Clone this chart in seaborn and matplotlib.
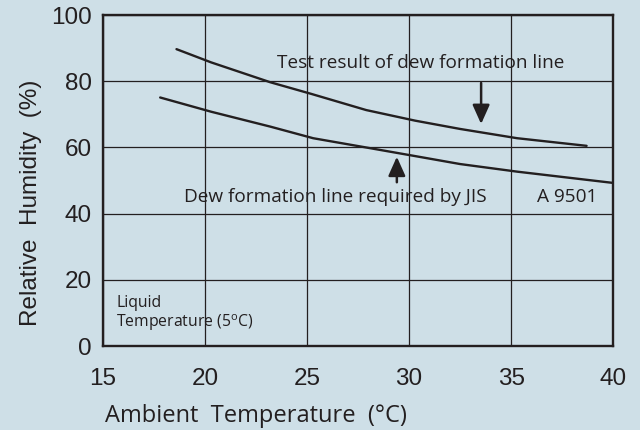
import pandas as pd
import matplotlib.pyplot as plt
import seaborn as sns

# values
test_temp = [18.6, 20.3, 23.2, 25.2, 27.9, 30.3, 32.5, 35.3, 38.7]
test_rh = [89.7, 85.7, 79.7, 76.2, 71.3, 68.1, 65.6, 62.8, 60.5]
jis_temp = [17.8, 20.3, 23.2, 25.3, 27.9, 30.3, 32.5, 35.3, 40.0]
jis_rh = [75.1, 70.8, 66.3, 62.8, 60.0, 57.4, 55.0, 52.7, 49.3]
x_ticks = [15, 20, 25, 30, 35, 40]
y_ticks = [0, 20, 40, 60, 80, 100]

BG = "#cedfe7"
INK = "#231f20"
NOTE_FONT = ["Open Sans", "DejaVu Sans"]
TICK_FONT = ["Liberation Sans", "DejaVu Sans"]

sns.set_theme(style="white")
plt.rcParams["font.family"] = TICK_FONT
plt.rcParams["mathtext.default"] = "regular"

df = pd.concat(
    [
        pd.DataFrame({"temp": test_temp, "rh": test_rh, "line": "test"}),
        pd.DataFrame({"temp": jis_temp, "rh": jis_rh, "line": "jis"}),
    ],
    ignore_index=True,
)

fig = plt.figure(figsize=(6.4, 4.3), dpi=100, facecolor=BG)
ax = fig.add_axes([0.161, 0.195, 0.797, 0.770])
ax.set_facecolor(BG)

sns.lineplot(
    data=df, x="temp", y="rh", units="line", estimator=None,
    color=INK, lw=1.7, sort=False, legend=False, ax=ax,
)

ax.set_xlim(15, 40)
ax.set_ylim(0, 100)
ax.set_xticks(x_ticks)
ax.set_yticks(y_ticks)
ax.grid(True, color=INK, lw=0.9)
for s in ax.spines.values():
    s.set_color(INK)
    s.set_linewidth(1.7)
ax.tick_params(axis="both", length=0, labelsize=17.5, labelcolor=INK)
ax.tick_params(axis="x", pad=16)
ax.tick_params(axis="y", pad=8)

ax.set_xlabel("Ambient  Temperature  (°C)", fontsize=17, color=INK, family=NOTE_FONT)
ax.xaxis.set_label_coords(0.30, -0.175)
ax.set_ylabel("Relative  Humidity  (%)", fontsize=17.5, color=INK)
ax.yaxis.set_label_coords(-0.119, 0.432)

note = dict(color=INK, family=NOTE_FONT, va="baseline", ha="left")
ax.text(23.53, 84.0, "Test result of dew formation line", fontsize=13.7, **note)
ax.text(18.97, 43.6, "Dew formation line required by JIS", fontsize=13.7, **note)
ax.text(36.27, 43.6, "A 9501", fontsize=13.7, **note)
ax.text(15.64, 11.9, "Liquid", fontsize=11.3, **note)
ax.text(15.64, 5.8, "Temperature (5$^{o}$C)", fontsize=11.3, **note)

arrow = dict(arrowstyle="-|>,head_length=0.58,head_width=0.26", color=INK,
             lw=1.8, mutation_scale=20, shrinkA=0, shrinkB=0)
ax.annotate("", xy=(33.53, 67.1), xytext=(33.53, 79.5), arrowprops=arrow)
ax.annotate("", xy=(29.4, 57.2), xytext=(29.4, 49.5), arrowprops=arrow)

fig.savefig("out.png", dpi=100, facecolor=BG)
